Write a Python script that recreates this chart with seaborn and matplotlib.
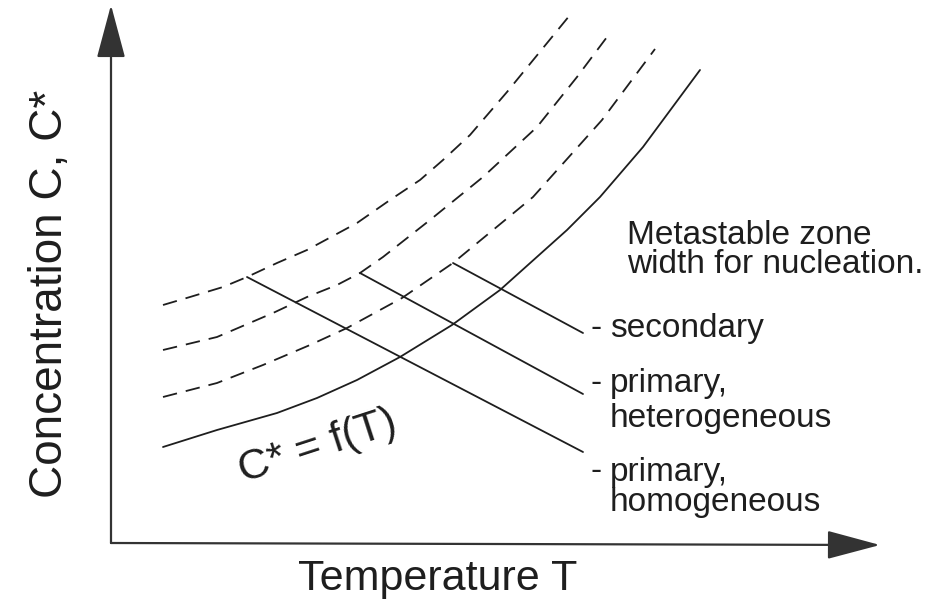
import pandas as pd
import seaborn as sns
import matplotlib.pyplot as plt

sns.set_theme(style="white")
plt.rcParams['font.family'] = ['Liberation Sans', 'DejaVu Sans']

# Curves (T, C in arbitrary units, origin at the axis corner)
solid_T = [5.2, 10.6, 16.6, 20.6, 24.6, 28.9, 34.1, 38.9, 45.6, 48.9, 53.2, 58.9]
solid_C = [9.3, 11.0, 12.7, 14.2, 16.0, 18.3, 21.5, 25.0, 31.0, 34.3, 39.3, 47.0]

dash3_T = [5.2, 10.6, 15.2, 19.9, 23.6, 29.1, 34.2, 42.2, 49.1, 54.4]
dash3_C = [14.3, 15.7, 17.5, 19.5, 21.2, 24.2, 27.7, 34.3, 42.0, 49.1]

dash2_T = [5.2, 10.6, 16.2, 19.6, 22.6, 24.9, 27.2, 31.9, 37.2, 42.6, 46.6, 49.9]
dash2_C = [19.0, 20.3, 22.7, 24.3, 25.5, 26.7, 28.3, 32.0, 36.3, 41.3, 46.3, 50.7]

dash1_T = [5.2, 7.9, 11.2, 13.6, 16.6, 19.6, 24.6, 27.9, 30.9, 33.2, 35.9, 39.6, 45.9]
dash1_C = [23.5, 24.3, 25.3, 26.3, 27.7, 29.0, 31.7, 34.0, 36.0, 38.0, 40.5, 44.8, 52.5]

# Pointer lines from the metastable limits to the labels
pointer_T = [[13.6, 47.2], [24.9, 47.2], [34.2, 47.2]]
pointer_C = [[26.3, 8.8], [26.7, 14.6], [27.7, 20.7]]

label_lines = ["secondary", "primary,", "heterogeneous", "primary,", "homogeneous"]
label_C = [21.2, 15.7, 12.2, 6.8, 3.7]
dash_rows = [0, 1, 3]

fig = plt.figure(figsize=(9.44, 6.06), dpi=100)
ax = fig.add_axes([0, 0, 1, 1])
ax.set_xlim(-11.1, 83.3)
ax.set_ylim(-6.6, 54.0)
ax.axis('off')

ink = '#1e1e1e'

curves = pd.concat([
    pd.DataFrame({'T': solid_T, 'C': solid_C, 'curve': 'solubility'}),
    pd.DataFrame({'T': dash3_T, 'C': dash3_C, 'curve': 'secondary'}),
    pd.DataFrame({'T': dash2_T, 'C': dash2_C, 'curve': 'heterogeneous'}),
    pd.DataFrame({'T': dash1_T, 'C': dash1_C, 'curve': 'homogeneous'}),
])

for name, grp in curves.groupby('curve', sort=False):
    ls = '-' if name == 'solubility' else (0, (8, 5))
    sns.lineplot(data=grp, x='T', y='C', ax=ax, sort=False, estimator=None,
                 color=ink, lw=1.3, linestyle=ls, legend=False)

for pt, pc in zip(pointer_T, pointer_C):
    sns.lineplot(x=pt, y=pc, ax=ax, sort=False, estimator=None,
                 color=ink, lw=1.3, legend=False)

# axes arrows
arrow = dict(arrowstyle="-|>,head_length=2.8,head_width=0.75", lw=1.6,
             color='#333333', shrinkA=0, shrinkB=0)
ax.annotate("", xy=(0, 53.5), xytext=(0, -0.3), arrowprops=arrow)
ax.annotate("", xy=(76.9, -0.5), xytext=(0, -0.3), arrowprops=arrow)

ax.text(-6.1, 24.6, "Concentration C, C*", rotation=90, ha='center',
        va='center', fontsize=33, color=ink)
ax.text(32.7, -3.9, "Temperature T", ha='center', va='center',
        fontsize=31, color=ink)
ax.text(20.7, 9.3, "C* = f(T)", rotation=18, ha='center', va='center',
        fontsize=31, color=ink)

ax.text(51.6, 29.0, "Metastable zone\nwidth for nucleation.", ha='left',
        va='center', fontsize=24, linespacing=0.95, color=ink)

for i, (txt, c) in enumerate(zip(label_lines, label_C)):
    ax.text(49.9, c, txt, ha='left', va='center', fontsize=24, color=ink)
    if i in dash_rows:
        ax.text(47.9, c, "-", ha='left', va='center', fontsize=24, color=ink)

fig.savefig("out.png", dpi=100)
